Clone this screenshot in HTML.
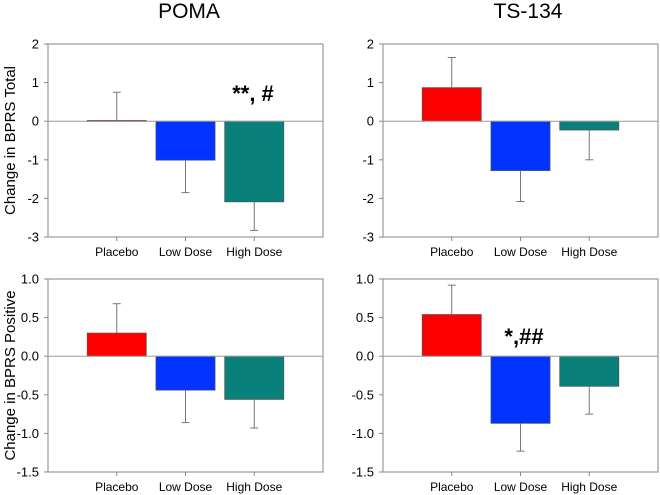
<!DOCTYPE html>
<html><head><meta charset="utf-8"><style>
body{margin:0;background:#fff;font-family:"Liberation Sans",Arial,sans-serif}
svg{display:block}
</style></head><body>
<svg id="chart" width="660" height="495"></svg>
<script>
const categories = ["Placebo","Low Dose","High Dose"];
const pomaTotal = [0.02,-1.01,-2.09];
const pomaTotalErr = [0.73,0.84,0.74];
const tsTotal = [0.87,-1.28,-0.23];
const tsTotalErr = [0.78,0.8,0.77];
const pomaPos = [0.30,-0.44,-0.56];
const pomaPosErr = [0.38,0.42,0.37];
const tsPos = [0.54,-0.87,-0.39];
const tsPosErr = [0.38,0.36,0.36];
const totalTicks = [2,1,0,-1,-2,-3];
const posTicks = [1.0,0.5,0.0,-0.5,-1.0,-1.5];
const colors = ["#ff0000","#0033ff","#0a807a"];
const NS="http://www.w3.org/2000/svg";
const svg=document.getElementById('chart');
function mk(t,a,p){const e=document.createElementNS(NS,t);for(const k in a)e.setAttribute(k,a[k]);(p||svg).appendChild(e);return e;}
function panel(name,x0,x1,y0,y1,vals,errs,ticks,fmt,ylabel,ann,annX,annY){
  const g=mk('g',{});
  
  
  const vmax=ticks[0],vmin=ticks[ticks.length-1];
  const ys=v=>y0+(vmax-v)/(vmax-vmin)*(y1-y0);
  const slot=(x1-x0)/(categories.length+1);
  const xs=i=>x0+slot*(i+1);
  const bw=slot*0.86;
  const fr=mk('rect',{x:x0,y:y0,width:x1-x0,height:y1-y0,fill:'none',stroke:'#999','stroke-width':1.2},g);
  
  
  ticks.forEach(t=>{
    mk('line',{x1:x0-4,x2:x0,y1:ys(t),y2:ys(t),stroke:'#888'},g);
    const tx=mk('text',{x:x0-9,y:ys(t)+4.5,'text-anchor':'end','font-size':13,fill:'#000'},g);
    tx.textContent=fmt(t);
    
    
  });
  vals.forEach((v,i)=>{
    const cx=xs(i);
    const top=Math.min(ys(v),ys(0)),h=Math.abs(ys(v)-ys(0));
    const b=mk('rect',{x:cx-bw/2,y:top,width:bw,height:Math.max(h,1),fill:colors[i],stroke:'#555','stroke-width':0.7},g);
    
    
    const e=v>=0?v+errs[i]:v-errs[i];
    mk('line',{x1:cx,x2:cx,y1:ys(v),y2:ys(e),stroke:'#777'},g);
    mk('line',{x1:cx-4,x2:cx+4,y1:ys(e),y2:ys(e),stroke:'#777'},g);
    mk('line',{x1:cx,x2:cx,y1:y1,y2:y1+4,stroke:'#888'},g);
    const cl=mk('text',{x:cx,y:y1+19,'text-anchor':'middle','font-size':12,fill:'#000'},g);
    cl.textContent=categories[i];
    
    
  });
  mk('line',{x1:x0,x2:x1,y1:ys(0),y2:ys(0),stroke:'#999'},g);
  if(ylabel){
    const yl=mk('text',{x:0,y:0,transform:`translate(15,${(y0+y1)/2}) rotate(-90)`,'text-anchor':'middle','font-size':15,fill:'#000'},g);
    yl.textContent=ylabel;
    
    
  }
  if(ann){
    const a=mk('text',{x:annX,y:annY,'text-anchor':'middle','font-size':22,'font-weight':'bold',fill:'#000'},g);
    a.textContent=ann;
    
    
  }
}
const f0=t=>String(t), f1=t=>t.toFixed(1);
panel('poma-total-panel',48,323,44,237,pomaTotal,pomaTotalErr,totalTicks,f0,'Change in BPRS Total','**, #',253,101);
panel('ts134-total-panel',383,658,44,237,tsTotal,tsTotalErr,totalTicks,f0,null,null);
panel('poma-positive-panel',48,323,279,472,pomaPos,pomaPosErr,posTicks,f1,'Change in BPRS Positive',null);
panel('ts134-positive-panel',383,658,279,472,tsPos,tsPosErr,posTicks,f1,null,'*,##',524,344);
[['POMA',189],['TS-134',528]].forEach(([t,x])=>{
  const e=mk('text',{x:x,y:18,'text-anchor':'middle','font-size':21,fill:'#000'});
  e.textContent=t;
  
  
});
</script>
</body></html>
